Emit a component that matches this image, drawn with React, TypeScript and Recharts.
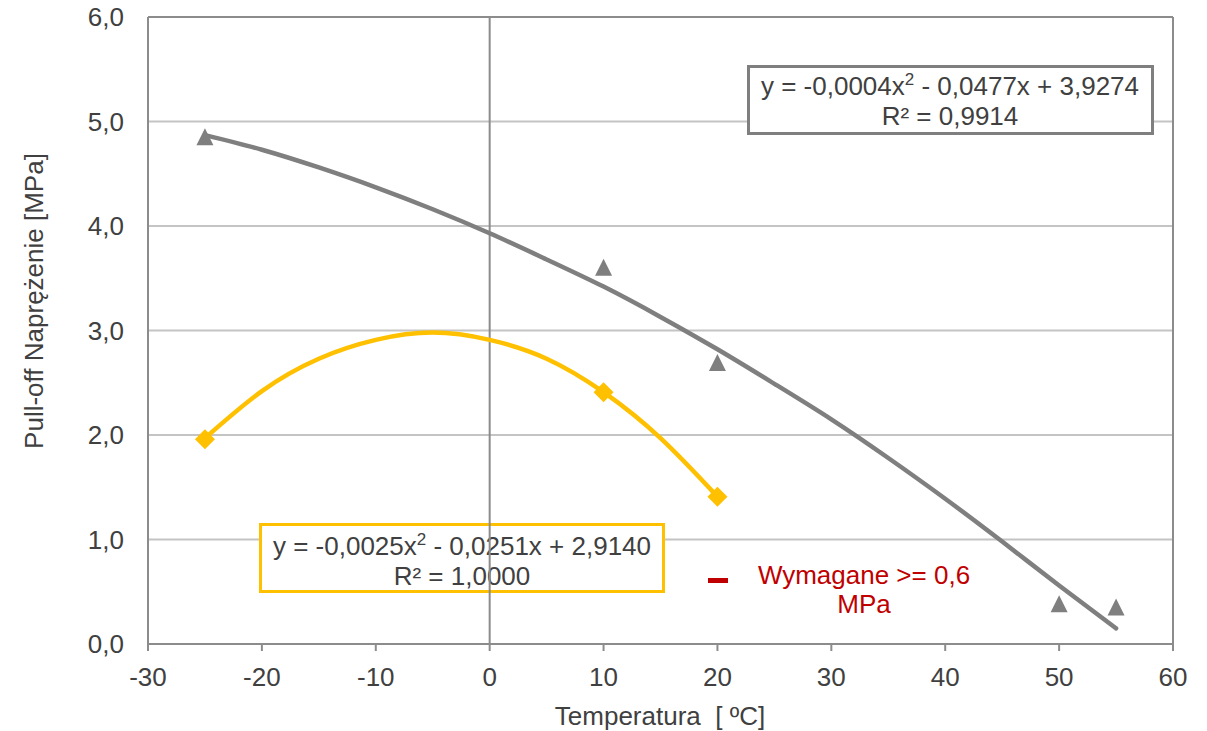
import React from "react";
import {
  CartesianGrid,
  ComposedChart,
  Customized,
  Line,
  ReferenceLine,
  Scatter,
  XAxis,
  YAxis,
} from "recharts";

// measured points
const grayPoints = [
  { x: -25, y: 4.85 },
  { x: 10, y: 3.6 },
  { x: 20, y: 2.69 },
  { x: 50, y: 0.38 },
  { x: 55, y: 0.35 },
];
const yellowPoints = [
  { x: -25, y: 1.96 },
  { x: 10, y: 2.41 },
  { x: 20, y: 1.41 },
];

// trendlines, every 5 degrees
const grayTrend = [
  { x: -25, y: 4.87 },
  { x: -20, y: 4.73 },
  { x: -15, y: 4.56 },
  { x: -10, y: 4.37 },
  { x: -5, y: 4.16 },
  { x: 0, y: 3.93 },
  { x: 5, y: 3.68 },
  { x: 10, y: 3.42 },
  { x: 15, y: 3.13 },
  { x: 20, y: 2.82 },
  { x: 25, y: 2.49 },
  { x: 30, y: 2.15 },
  { x: 35, y: 1.78 },
  { x: 40, y: 1.39 },
  { x: 45, y: 0.98 },
  { x: 50, y: 0.56 },
  { x: 55, y: 0.15 },
];
const yellowTrend = [
  { x: -25, y: 1.97 },
  { x: -20, y: 2.42 },
  { x: -15, y: 2.73 },
  { x: -10, y: 2.91 },
  { x: -5, y: 2.98 },
  { x: 0, y: 2.91 },
  { x: 5, y: 2.73 },
  { x: 10, y: 2.41 },
  { x: 15, y: 1.97 },
  { x: 20, y: 1.41 },
];

const xTicks = [-30, -20, -10, 0, 10, 20, 30, 40, 50, 60];
const yTicks = [0, 1, 2, 3, 4, 5, 6];

const GRAY = "#7f7f7f";
const YELLOW = "#ffc000";
const RED = "#c00000";
const TEXT = "#404040";
const AXIS = "#8c8c8c";
const GRID = "#c4c4c4";
const FONT = "'Liberation Sans', Arial, sans-serif";
const FS = 26;

const Triangle = (p: any) => {
  const { cx, cy } = p;
  if (cx == null || cy == null) return null;
  return (
    <path
      d={`M${cx},${cy - 9} L${cx + 8.5},${cy + 8} L${cx - 8.5},${cy + 8} Z`}
      fill={GRAY}
    />
  );
};

const Diamond = (p: any) => {
  const { cx, cy } = p;
  if (cx == null || cy == null) return null;
  return (
    <path
      d={`M${cx},${cy - 10} L${cx + 10},${cy} L${cx},${cy + 10} L${cx - 10},${cy} Z`}
      fill={YELLOW}
    />
  );
};

const Annotations = () => (
  <g fontFamily={FONT} fontSize={FS} fill={TEXT}>
    {/* gray trendline label */}
    <rect x={748.5} y={66.5} width={404} height={67} fill="#fff" stroke={GRAY} strokeWidth={3} />
    <text x={950} y={95} textAnchor="middle">
      y = -0,0004x<tspan dy={-10} fontSize={17}>2</tspan>
      <tspan dy={10}> - 0,0477x + 3,9274</tspan>
    </text>
    <text x={950} y={125} textAnchor="middle">R² = 0,9914</text>

    {/* yellow trendline label */}
    <rect x={260.5} y={524.5} width={403} height={67} fill="#fff" stroke={YELLOW} strokeWidth={3} />
    <text x={462} y={555} textAnchor="middle">
      y = -0,0025x<tspan dy={-10} fontSize={17}>2</tspan>
      <tspan dy={10}> - 0,0251x + 2,9140</tspan>
    </text>
    <text x={462} y={585} textAnchor="middle">R² = 1,0000</text>

    {/* legend entry */}
    <rect x={708} y={578} width={20} height={5} fill={RED} />
    <text x={864} y={584} textAnchor="middle" fill={RED}>Wymagane &gt;= 0,6</text>
    <text x={864} y={613} textAnchor="middle" fill={RED}>MPa</text>

    {/* axis titles */}
    <text transform="translate(43,301) rotate(-90)" textAnchor="middle">
      Pull-off Naprężenie [MPa]
    </text>
    <text x={660} y={725} textAnchor="middle" xmlSpace="preserve">
      Temperatura  [ ºC]
    </text>
  </g>
);

export default function App() {
  return (
    <div
      style={{
        position: "absolute",
        left: 0,
        top: 0,
        width: 1207,
        height: 731,
        background: "#fff",
        fontFamily: FONT,
      }}
    >
      <ComposedChart
        width={1207}
        height={731}
        margin={{ top: 17, right: 34, bottom: 0, left: 0 }}
      >
        <CartesianGrid horizontal vertical={false} stroke={GRID} strokeWidth={2} />
        <XAxis
          type="number"
          dataKey="x"
          domain={[-30, 60]}
          ticks={xTicks}
          allowDataOverflow
          height={87}
          stroke={AXIS}
          strokeWidth={2}
          tickSize={7}
          tickMargin={17}
          tick={{ fill: TEXT, fontSize: FS, fontFamily: FONT }}
        />
        <YAxis
          type="number"
          domain={[0, 6]}
          ticks={yTicks}
          width={148}
          stroke={AXIS}
          strokeWidth={2}
          tickLine={false}
          tickSize={0}
          tickMargin={24}
          tickFormatter={(v: number) => v.toFixed(1).replace(".", ",")}
          tick={{ fill: TEXT, fontSize: FS, fontFamily: FONT }}
        />
        <ReferenceLine y={6} stroke={AXIS} strokeWidth={2} />
        <ReferenceLine x={60} stroke={AXIS} strokeWidth={2} />
        <ReferenceLine x={0} stroke={AXIS} strokeWidth={2} />
        <Line
          data={grayTrend}
          dataKey="y"
          type="natural"
          stroke={GRAY}
          strokeWidth={4.5}
          strokeLinecap="round"
          dot={false}
          activeDot={false}
          isAnimationActive={false}
        />
        <Line
          data={yellowTrend}
          dataKey="y"
          type="natural"
          stroke={YELLOW}
          strokeWidth={4.5}
          strokeLinecap="round"
          dot={false}
          activeDot={false}
          isAnimationActive={false}
        />
        <Scatter data={grayPoints} dataKey="y" shape={Triangle} isAnimationActive={false} />
        <Scatter data={yellowPoints} dataKey="y" shape={Diamond} isAnimationActive={false} />
        <Customized component={Annotations} />
      </ComposedChart>
    </div>
  );
}
